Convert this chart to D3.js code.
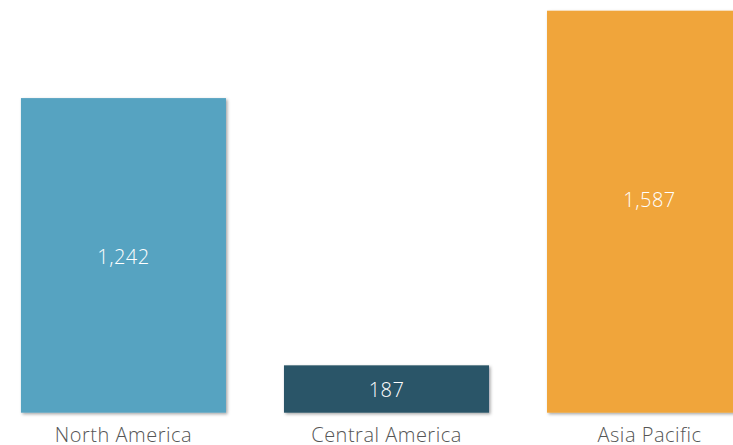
<!DOCTYPE html>
<html><head><meta charset="utf-8">
<script src="https://cdn.jsdelivr.net/npm/d3@7"></script>
<style>html,body{margin:0;padding:0;background:#fff;overflow:hidden}</style>
</head><body>
<svg id="c" width="733" height="445"></svg>
<script>
const categories = ["North America", "Central America", "Asia Pacific"];
const values = [1242, 187, 1587];
const colors = ["#57A3C1", "#2C5567", "#F0A53A"];

const svg = d3.select("#c");
const defs = svg.append("defs");
const f = defs.append("filter").attr("id","sh").attr("x","-10%").attr("y","-10%").attr("width","130%").attr("height","130%");
f.append("feDropShadow").attr("dx",1.5).attr("dy",1.5).attr("stdDeviation",1.5).attr("flood-color","#000").attr("flood-opacity",0.35);

const step = 263;
const x = d3.scaleBand().domain(categories).range([21 - 29, 21 - 29 + 3*step]).paddingInner(0.2205).paddingOuter(0.11);
const y = d3.scaleLinear().domain([0, 1587]).range([412.7, 10.7]);
const fmt = d3.format(",");
const font = "'Open Sans', 'Noto Sans', sans-serif";
const vmax = d3.max(values);

const data = categories.map((c,i)=>({c, v:values[i], col:colors[i]}));

svg.selectAll("rect.bar").data(data).join("rect").attr("class","bar")
  .attr("x", d=>x(d.c)).attr("width", x.bandwidth())
  .attr("y", d=>y(d.v)).attr("height", d=>y(0)-y(d.v))
  .attr("fill", d=>d.col).attr("filter","url(#sh)");

// label centred in bar; the tallest bar's label sits a little higher (as in the source)
const labelY = d => (y(d.v)+y(0))/2 + (d.v === vmax ? -12 : 1);
svg.selectAll("text.val").data(data).join("text").attr("class","val")
  .attr("x", d=>x(d.c)+x.bandwidth()/2)
  .attr("y", labelY)
  .attr("dy","0.36em").attr("text-anchor","middle")
  .attr("fill","#fff").style("font-family",font).style("font-size","20px").style("letter-spacing","0.5px").style("font-weight",300)
  .text(d=>fmt(d.v));

const ax = svg.append("g").attr("transform",`translate(0,${y(0)})`)
  .call(d3.axisBottom(x).tickSize(0).tickPadding(15));
ax.select(".domain").remove();
ax.selectAll("text").attr("fill","#555").style("font-family",font).style("font-size","20px").style("letter-spacing","0.5px").style("font-weight",300);
</script>
</body></html>
